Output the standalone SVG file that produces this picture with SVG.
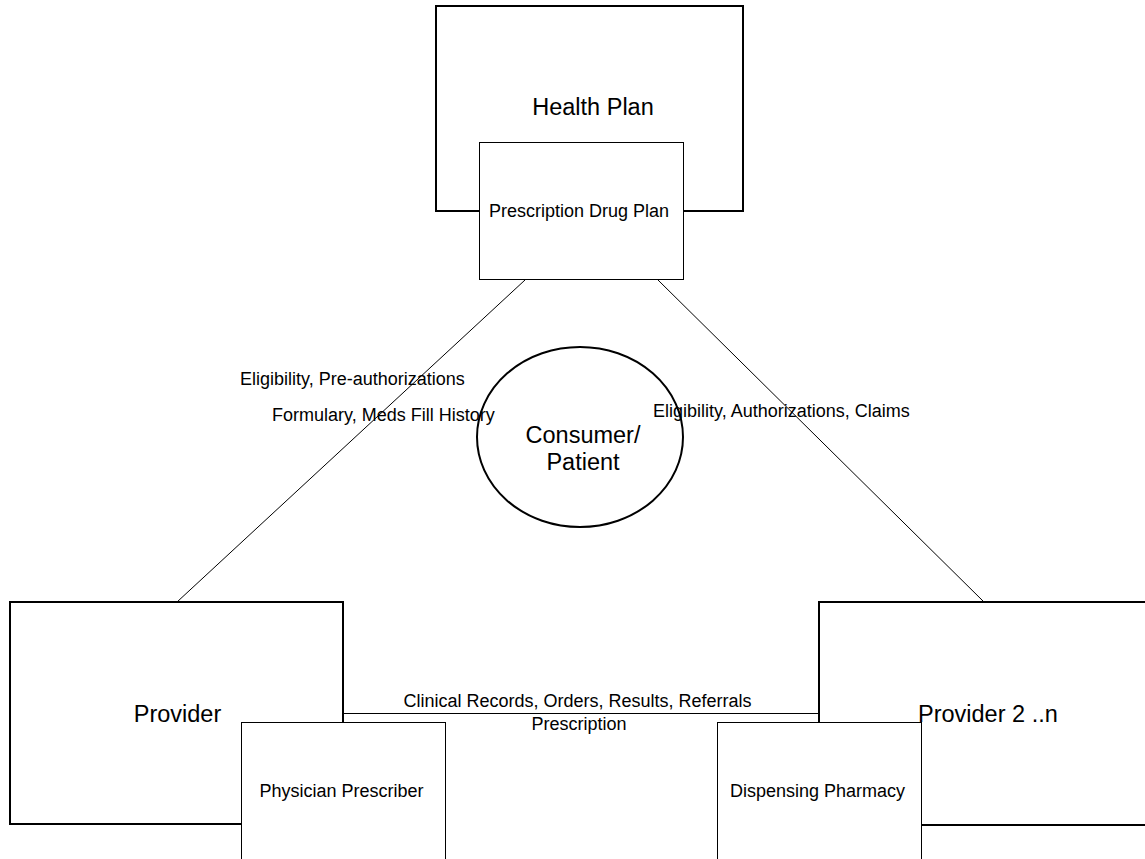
<svg xmlns="http://www.w3.org/2000/svg" width="1145" height="859" viewBox="0 0 1145 859">
<style>
  .big { fill: #fff; stroke: #000; stroke-width: 2; }
  .small { fill: #fff; stroke: #000; stroke-width: 1; }
  .conn { stroke: #000; stroke-width: 1; fill: none; }
  text { font-family: "Liberation Sans", Arial, sans-serif; fill: #000; }
  .t23 { font-size: 23.5px; }
  .t18 { font-size: 18px; }
  .mid { text-anchor: middle; }
</style>
<rect width="1145" height="859" fill="#fff"/>
<g id="connectors">
  <line class="conn" x1="525" y1="280" x2="177" y2="602"/>
  <line class="conn" x1="658" y1="280" x2="984" y2="602"/>
  <line class="conn" x1="343" y1="713.5" x2="819" y2="713.5"/>
</g>
<g id="health-plan">
  <rect class="big" x="436" y="6" width="307" height="205"/>
  <text class="t23 mid" x="593" y="115">Health Plan</text>
</g>
<g id="prescription-drug-plan">
  <rect class="small" x="479.5" y="142.5" width="204" height="137"/>
  <text class="t18 mid" x="579" y="217">Prescription Drug Plan</text>
</g>
<g id="consumer">
  <ellipse class="big" cx="580" cy="437" rx="103" ry="90" fill="none"/>
  <text class="t23 mid" x="583" y="443">Consumer/</text>
  <text class="t23 mid" x="583" y="470">Patient</text>
</g>
<g id="provider">
  <rect class="big" x="10" y="602" width="333" height="222"/>
  <text class="t23 mid" x="177.5" y="722">Provider</text>
</g>
<g id="physician-prescriber">
  <rect class="small" x="241.5" y="722.5" width="204" height="150"/>
  <text class="t18 mid" x="341.5" y="797">Physician Prescriber</text>
</g>
<g id="provider-2">
  <rect class="big" x="819" y="602" width="340" height="223"/>
</g>
<g id="dispensing-pharmacy">
  <rect class="small" x="717.5" y="722.5" width="204" height="150"/>
  <text class="t18 mid" x="817.5" y="797">Dispensing Pharmacy</text>
</g>
<g id="provider-2-label">
  <text class="t23" x="918" y="722">Provider 2 ..n</text>
</g>
<g id="labels">
  <text class="t18" x="240" y="385">Eligibility, Pre-authorizations</text>
  <text class="t18" x="272" y="421">Formulary, Meds Fill History</text>
  <text class="t18" x="653" y="417">Eligibility, Authorizations, Claims</text>
  <text class="t18 mid" x="577.5" y="707">Clinical Records, Orders, Results, Referrals</text>
  <text class="t18 mid" x="579" y="730">Prescription</text>
</g>
</svg>
